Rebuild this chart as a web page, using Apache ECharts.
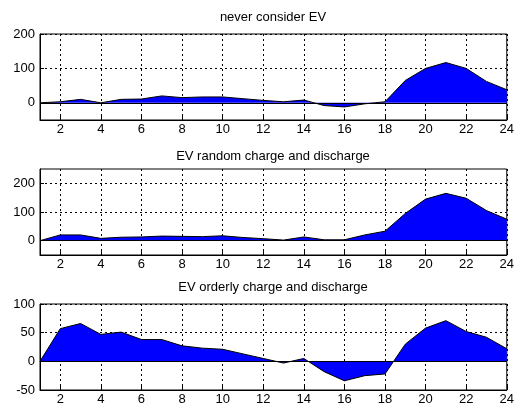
<!DOCTYPE html>
<html>
<head>
<meta charset="utf-8">
<script src="https://cdn.jsdelivr.net/npm/echarts@6/dist/echarts.min.js"></script>
<style>
html, body { margin: 0; padding: 0; background: #fff; }
#chart { width: 517px; height: 409px; }
</style>
</head>
<body>
<div id="chart"></div>
<script>
// 数据：24小时
const hours = [1, 2, 3, 4, 5, 6, 7, 8, 9, 10, 11, 12, 13, 14, 15, 16, 17, 18, 19, 20, 21, 22, 23, 24];
const xTicks = [2, 4, 6, 8, 10, 12, 14, 16, 18, 20, 22, 24];

const titles = ['never consider EV', 'EV random charge and discharge', 'EV orderly charge and discharge'];

const neverEV = [0, 3, 10, 0, 10, 11, 20, 15, 17, 17, 12, 7, 3, 8, -8, -12, -3, 3, 65, 100, 117, 100, 62, 38];
const randomEV = [0, 20, 20, 8, 12, 13, 16, 15, 14, 17, 11, 7, 2, 13, 3, 3, 20, 33, 95, 145, 165, 148, 105, 75];
const orderlyEV = [0, 57, 66, 47, 51, 38, 38, 27, 23, 21, 13, 5, -3, 5, -18, -34, -25, -22, 30, 58, 71, 52, 42, 22];

const yRanges = [[-50, 200], [-50, 250], [-50, 100]];
const yTicks = [[0, 100, 200], [0, 100, 200], [-50, 0, 50, 100]];

const seriesData = [neverEV, randomEV, orderlyEV];

const chart = echarts.init(document.getElementById('chart'));
const font = 'Liberation Sans, Arial, sans-serif';

const gridTops = [34, 169, 304];
const titleTops = [11, 150, 281];

const option = {
    backgroundColor: '#fff',
    animation: false,
    title: [],
    grid: [],
    xAxis: [],
    yAxis: [],
    series: []
};

seriesData.forEach(function(vals, i) {
    option.title.push({
        text: titles[i],
        left: 273,
        textAlign: 'center',
        top: titleTops[i],
        padding: 0,
        textStyle: { fontFamily: font, fontSize: 13, fontWeight: 'normal', color: '#000' }
    });
    option.grid.push({
        left: 40, right: 8, top: gridTops[i], height: 86,
        show: true, borderColor: '#000', borderWidth: 1, backgroundColor: '#fff'
    });
    option.xAxis.push({
        type: 'value', gridIndex: i, min: 1, max: 24,
        axisLine: { show: true, onZero: false, lineStyle: { color: '#000' } },
        axisTick: { show: true, inside: true, length: 4, customValues: xTicks, lineStyle: { color: '#000' } },
        axisLabel: { customValues: xTicks, margin: 3, fontFamily: font, fontSize: 13, color: '#000' },
        splitLine: { show: true, customValues: xTicks, lineStyle: { color: '#000', type: [2, 3], width: 1 } }
    });
    option.yAxis.push({
        type: 'value', gridIndex: i, min: yRanges[i][0], max: yRanges[i][1],
        axisLine: { show: true, lineStyle: { color: '#000' } },
        axisTick: { show: true, inside: true, length: 4, customValues: yTicks[i], lineStyle: { color: '#000' } },
        axisLabel: { customValues: yTicks[i], margin: 5, fontFamily: font, fontSize: 13, color: '#000' },
        splitLine: { show: true, customValues: yTicks[i], lineStyle: { color: '#000', type: [2, 3], width: 1 } }
    });
    option.series.push({
        type: 'line',
        xAxisIndex: i, yAxisIndex: i,
        data: hours.map(function(h, k) { return [h, vals[k]]; }),
        symbol: 'none',
        lineStyle: { color: '#000', width: 1 },
        areaStyle: { color: '#0000ff', opacity: 1, origin: 0 },
        markLine: {
            silent: true, symbol: 'none', label: { show: false },
            lineStyle: { color: '#000', type: 'solid', width: 1 },
            data: [{ yAxis: 0 }]
        },
        z: 3
    });
});

chart.setOption(option);
</script>
</body>
</html>
